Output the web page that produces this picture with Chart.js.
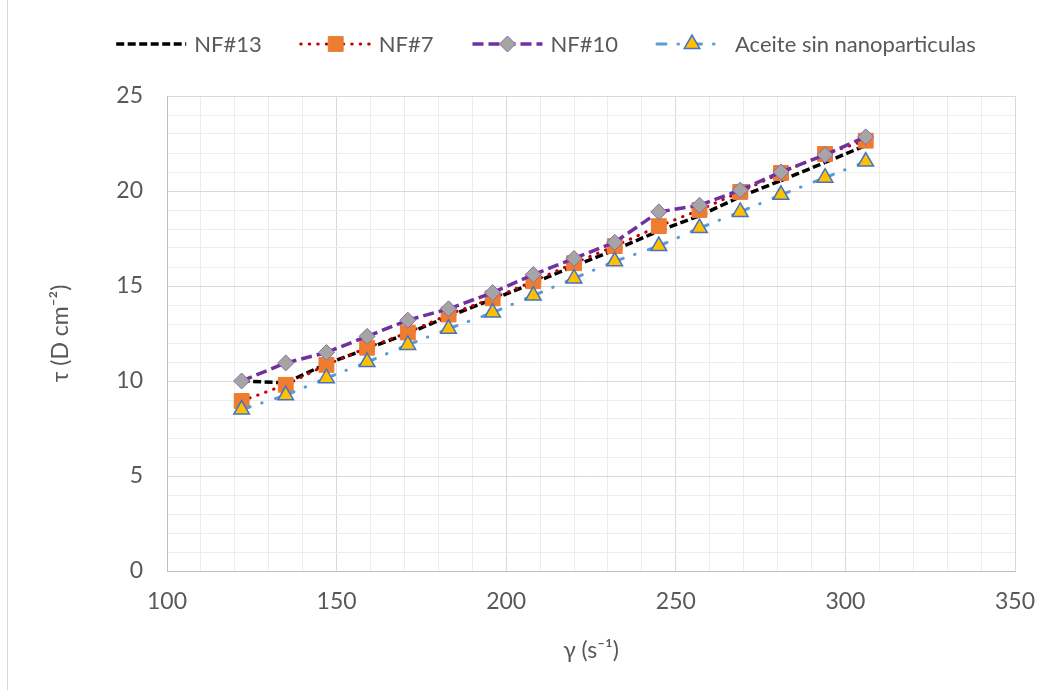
<!DOCTYPE html>
<html>
<head>
<meta charset="utf-8">
<script src="https://cdn.jsdelivr.net/npm/chart.js@4/dist/chart.umd.min.js"></script>
<style>
  html, body { margin: 0; padding: 0; background: #fff; }
  #wrap { position: relative; width: 1055px; height: 690px; }
  #frame { position: absolute; left: 7px; top: 0; bottom: 0; border-left: 1px solid #d9d9d9; }
  canvas { display: block; }
</style>
</head>
<body>
<div id="wrap">
  <div id="frame"></div>
  <canvas id="chart" width="1055" height="690"></canvas>
</div>
<script>
// Shear rate (s^-1) and shear stress (D cm^-2) for each fluid
const shearRate = [122, 135, 147, 159, 171, 183, 196, 208, 220, 232, 245, 257, 269, 281, 294, 306];
const nf13   = [10.0, 9.9, 10.9, 11.7, 12.5, 13.4, 14.3, 15.15, 16.05, 16.9, 17.9, 18.7, 19.7, 20.55, 21.5, 22.4];
const nf7    = [8.95, 9.8, 10.85, 11.75, 12.55, 13.5, 14.35, 15.25, 16.2, 17.1, 18.15, 19.0, 19.95, 20.95, 21.95, 22.65];
const nf10   = [10.0, 10.95, 11.5, 12.35, 13.2, 13.8, 14.65, 15.6, 16.45, 17.3, 18.9, 19.25, 20.05, 21.0, 21.9, 22.85];
const aceite = [8.5, 9.25, 10.15, 11.0, 11.9, 12.75, 13.6, 14.5, 15.4, 16.3, 17.1, 18.05, 18.9, 19.8, 20.7, 21.55];

const seriesNames = ['NF#13', 'NF#7', 'NF#10', 'Aceite sin nanoparticulas'];
const xTickLabels = [100, 150, 200, 250, 300, 350];
const yTickLabels = [0, 5, 10, 15, 20, 25];

const FONT = 'Lato, "Open Sans", sans-serif';
const TEXT = '#595959';
const MAJOR = '#d9d9d9';
const MINOR = '#ececec';

const pts = ys => shearRate.map((x, i) => ({ x, y: ys[i] }));

// restart the dash pattern at every point, one stroke per segment
const perSegment = { borderDashOffset: c => c.p0DataIndex * 0.001 };

const datasets = [
  {
    label: seriesNames[0], data: pts(nf13), order: 3,
    borderColor: '#000000', borderWidth: 3.5, borderDash: [8, 3.5],
    pointRadius: 0, segment: perSegment
  },
  {
    label: seriesNames[1], data: pts(nf7), order: 2,
    borderColor: '#c00000', borderWidth: 3, borderDash: [0.5, 8], borderCapStyle: 'round',
    pointStyle: 'rect', pointRadius: 10.5, pointBorderWidth: 1,
    pointBackgroundColor: '#ed7d31', pointBorderColor: '#ed7d31', segment: perSegment
  },
  {
    label: seriesNames[2], data: pts(nf10), order: 1,
    borderColor: '#7030a0', borderWidth: 3.5, borderDash: [11, 5],
    pointStyle: 'rectRot', pointRadius: 8, pointBorderWidth: 1,
    pointBackgroundColor: '#a5a5a5', pointBorderColor: '#8e6aa8', segment: perSegment
  },
  {
    label: seriesNames[3], data: pts(aceite), order: 0,
    borderColor: '#5b9bd5', borderWidth: 3, borderDash: [9, 12, 0.5, 14], borderCapStyle: 'round',
    pointStyle: 'triangle', pointRadius: 9, pointBorderWidth: 1.5,
    pointBackgroundColor: '#ffc000', pointBorderColor: '#4472c4', segment: perSegment
  }
];

// Legend: a line sample with the series marker in its middle, then the name
const lineLegend = {
  id: 'lineLegend',
  afterDraw(chart, args, o) {
    const ctx = chart.ctx;
    ctx.save();
    ctx.font = o.fontSize + 'px ' + FONT;
    const items = chart.data.datasets.map(ds => ({
      ds, w: o.sample + o.gap + ctx.measureText(ds.label).width
    }));
    const total = items.reduce((s, it) => s + it.w, 0) + o.spacing * (items.length - 1);
    let x = o.centerX - total / 2;
    const y = o.y;
    items.forEach(({ ds, w }) => {
      ctx.save();
      ctx.strokeStyle = ds.borderColor;
      ctx.lineWidth = ds.borderWidth;
      ctx.lineCap = ds.borderCapStyle || 'butt';
      ctx.setLineDash(ds.borderDash || []);
      ctx.beginPath();
      ctx.moveTo(x, y);
      ctx.lineTo(x + o.sample, y);
      ctx.stroke();
      ctx.restore();
      if (ds.pointRadius > 0) {
        ctx.save();
        ctx.fillStyle = ds.pointBackgroundColor;
        ctx.strokeStyle = ds.pointBorderColor;
        ctx.lineWidth = ds.pointBorderWidth;
        ctx.setLineDash([]);
        Chart.helpers.drawPoint(ctx, {
          pointStyle: ds.pointStyle, radius: ds.pointRadius,
          borderWidth: ds.pointBorderWidth, rotation: 0
        }, x + o.sample / 2, y);
        ctx.restore();
      }
      ctx.fillStyle = TEXT;
      ctx.textAlign = 'left';
      ctx.textBaseline = 'middle';
      ctx.fillText(ds.label, x + o.sample + o.gap, y + 1);
      x += w + o.spacing;
    });
    ctx.restore();
  }
};

const gridColor = c => (c.tick && (c.tick.value % 5 === 0 && c.scale.axis === 'y' || c.tick.value % 50 === 0 && c.scale.axis === 'x')) ? MAJOR : MINOR;

new Chart(document.getElementById('chart'), {
  type: 'line',
  data: { datasets },
  plugins: [lineLegend],
  options: {
    responsive: false,
    animation: false,
    layout: { padding: { top: 96, right: 40, left: 0, bottom: 0 } },
    plugins: {
      legend: { display: false },
      tooltip: { enabled: false },
      lineLegend: { centerX: 546, y: 44, sample: 70, gap: 8, spacing: 39, fontSize: 22 }
    },
    scales: {
      x: {
        type: 'linear', min: 100, max: 350,
        ticks: {
          stepSize: 10, autoSkip: false, maxRotation: 0,
          callback: v => xTickLabels.includes(v) ? String(v) : '',
          font: { family: FONT, size: 23 }, color: TEXT, padding: 17
        },
        grid: { color: gridColor, lineWidth: 1, drawTicks: false },
        border: { color: '#bfbfbf', width: 1 },
        title: {
          display: true, text: 'γ (s⁻¹)', color: TEXT,
          font: { family: FONT, size: 23 }, padding: { top: 0, bottom: 26 }
        },
        afterFit: s => { s.height = 119; }
      },
      y: {
        type: 'linear', min: 0, max: 25,
        ticks: {
          stepSize: 1, autoSkip: false,
          callback: v => yTickLabels.includes(v) ? String(v) : '',
          font: { family: FONT, size: 23 }, color: TEXT, padding: 24
        },
        grid: { color: gridColor, lineWidth: 1, drawTicks: false },
        border: { color: '#bfbfbf', width: 1 },
        title: {
          display: true, text: 'τ (D cm⁻²)', color: TEXT,
          font: { family: FONT, size: 23 }, padding: { top: 47, bottom: 0 }
        },
        afterFit: s => { s.width = 167; }
      }
    }
  }
});
</script>
</body>
</html>
